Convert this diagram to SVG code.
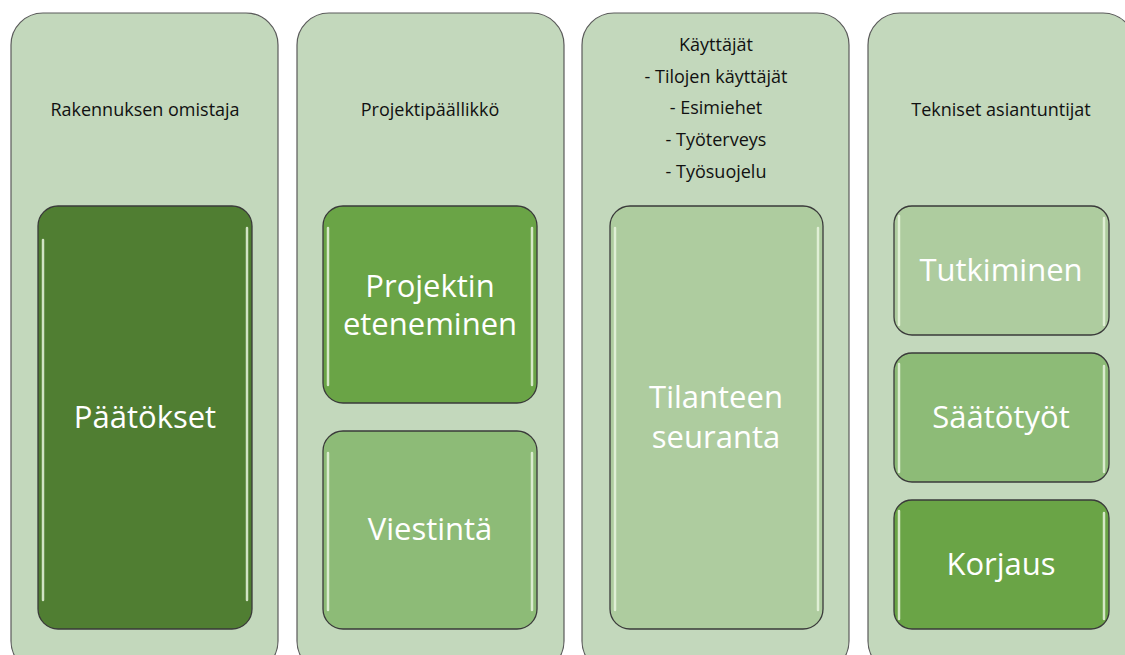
<svg xmlns="http://www.w3.org/2000/svg" width="1125" height="655" viewBox="0 0 1125 655">
<defs>
<style>
.panel{fill:#c3d8bc;stroke:#5a5a5a;stroke-width:1.2}
.box{stroke:#3a3a3a;stroke-width:1.3}
.hl{fill:none;stroke:#e8f5de;stroke-width:2.5;stroke-linecap:round;opacity:0.85}
.hdr{font-family:"Open Sans","Liberation Sans",sans-serif;font-size:18px;fill:#111;text-anchor:middle}
.big{font-family:"Open Sans","Liberation Sans",sans-serif;font-size:31px;fill:#fff;text-anchor:middle}
.c1{fill:#507e32}
.c2{fill:#6aa446}
.c3{fill:#8dbb77}
.c4{fill:#aecc9f}
</style>
</defs>
<rect width="1125" height="655" fill="#fff"/>
<g id="panel-omistaja">
<rect class="panel" x="11" y="13" width="267" height="660" rx="32"/>
<text class="hdr" x="145" y="116">Rakennuksen omistaja</text>
</g>
<g id="panel-projektipaallikko">
<rect class="panel" x="297" y="13" width="267" height="660" rx="32"/>
<text class="hdr" x="430" y="116">Projektipäällikkö</text>
</g>
<g id="panel-kayttajat">
<rect class="panel" x="582" y="13" width="267" height="660" rx="32"/>
<text class="hdr" x="716" y="51">Käyttäjät</text>
<text class="hdr" x="716" y="83">- Tilojen käyttäjät</text>
<text class="hdr" x="716" y="114">- Esimiehet</text>
<text class="hdr" x="716" y="146">- Työterveys</text>
<text class="hdr" x="716" y="178">- Työsuojelu</text>
</g>
<g id="panel-tekniset">
<rect class="panel" x="868" y="13" width="267" height="660" rx="32"/>
<text class="hdr" x="1001" y="116">Tekniset asiantuntijat</text>
</g>
<g id="node-paatokset">
<rect class="box c1" x="38" y="206" width="214" height="423" rx="20"/>
<path class="hl" d="M43 240 V600 M247 228 V600"/>
<text class="big" x="145" y="428">Päätökset</text>
</g>
<g id="node-projektin-eteneminen">
<rect class="box c2" x="323" y="206" width="214" height="197" rx="20"/>
<path class="hl" d="M328 228 V385 M532 228 V385"/>
<text class="big" x="430" y="297">Projektin</text>
<text class="big" x="430" y="335">eteneminen</text>
</g>
<g id="node-viestinta">
<rect class="box c3" x="323" y="431" width="214" height="198" rx="20"/>
<path class="hl" d="M328 453 V610 M532 453 V610"/>
<text class="big" x="430" y="540">Viestintä</text>
</g>
<g id="node-tilanteen-seuranta">
<rect class="box c4" x="610" y="206" width="213" height="423" rx="20"/>
<path class="hl" d="M615 228 V610 M818 228 V610"/>
<text class="big" x="716" y="408">Tilanteen</text>
<text class="big" x="716" y="448">seuranta</text>
</g>
<g id="node-tutkiminen">
<rect class="box c4" x="894" y="206" width="215" height="129" rx="18"/>
<path class="hl" d="M899 216 V325 M1104 218 V325"/>
<text class="big" x="1001" y="281">Tutkiminen</text>
</g>
<g id="node-saatotyot">
<rect class="box c3" x="894" y="353" width="215" height="129" rx="18"/>
<path class="hl" d="M899 364 V472 M1104 366 V472"/>
<text class="big" x="1001" y="428">Säätötyöt</text>
</g>
<g id="node-korjaus">
<rect class="box c2" x="894" y="500" width="215" height="129" rx="18"/>
<path class="hl" d="M899 511 V619 M1104 513 V619"/>
<text class="big" x="1001" y="575">Korjaus</text>
</g>
<g id="connectors"></g>
</svg>
